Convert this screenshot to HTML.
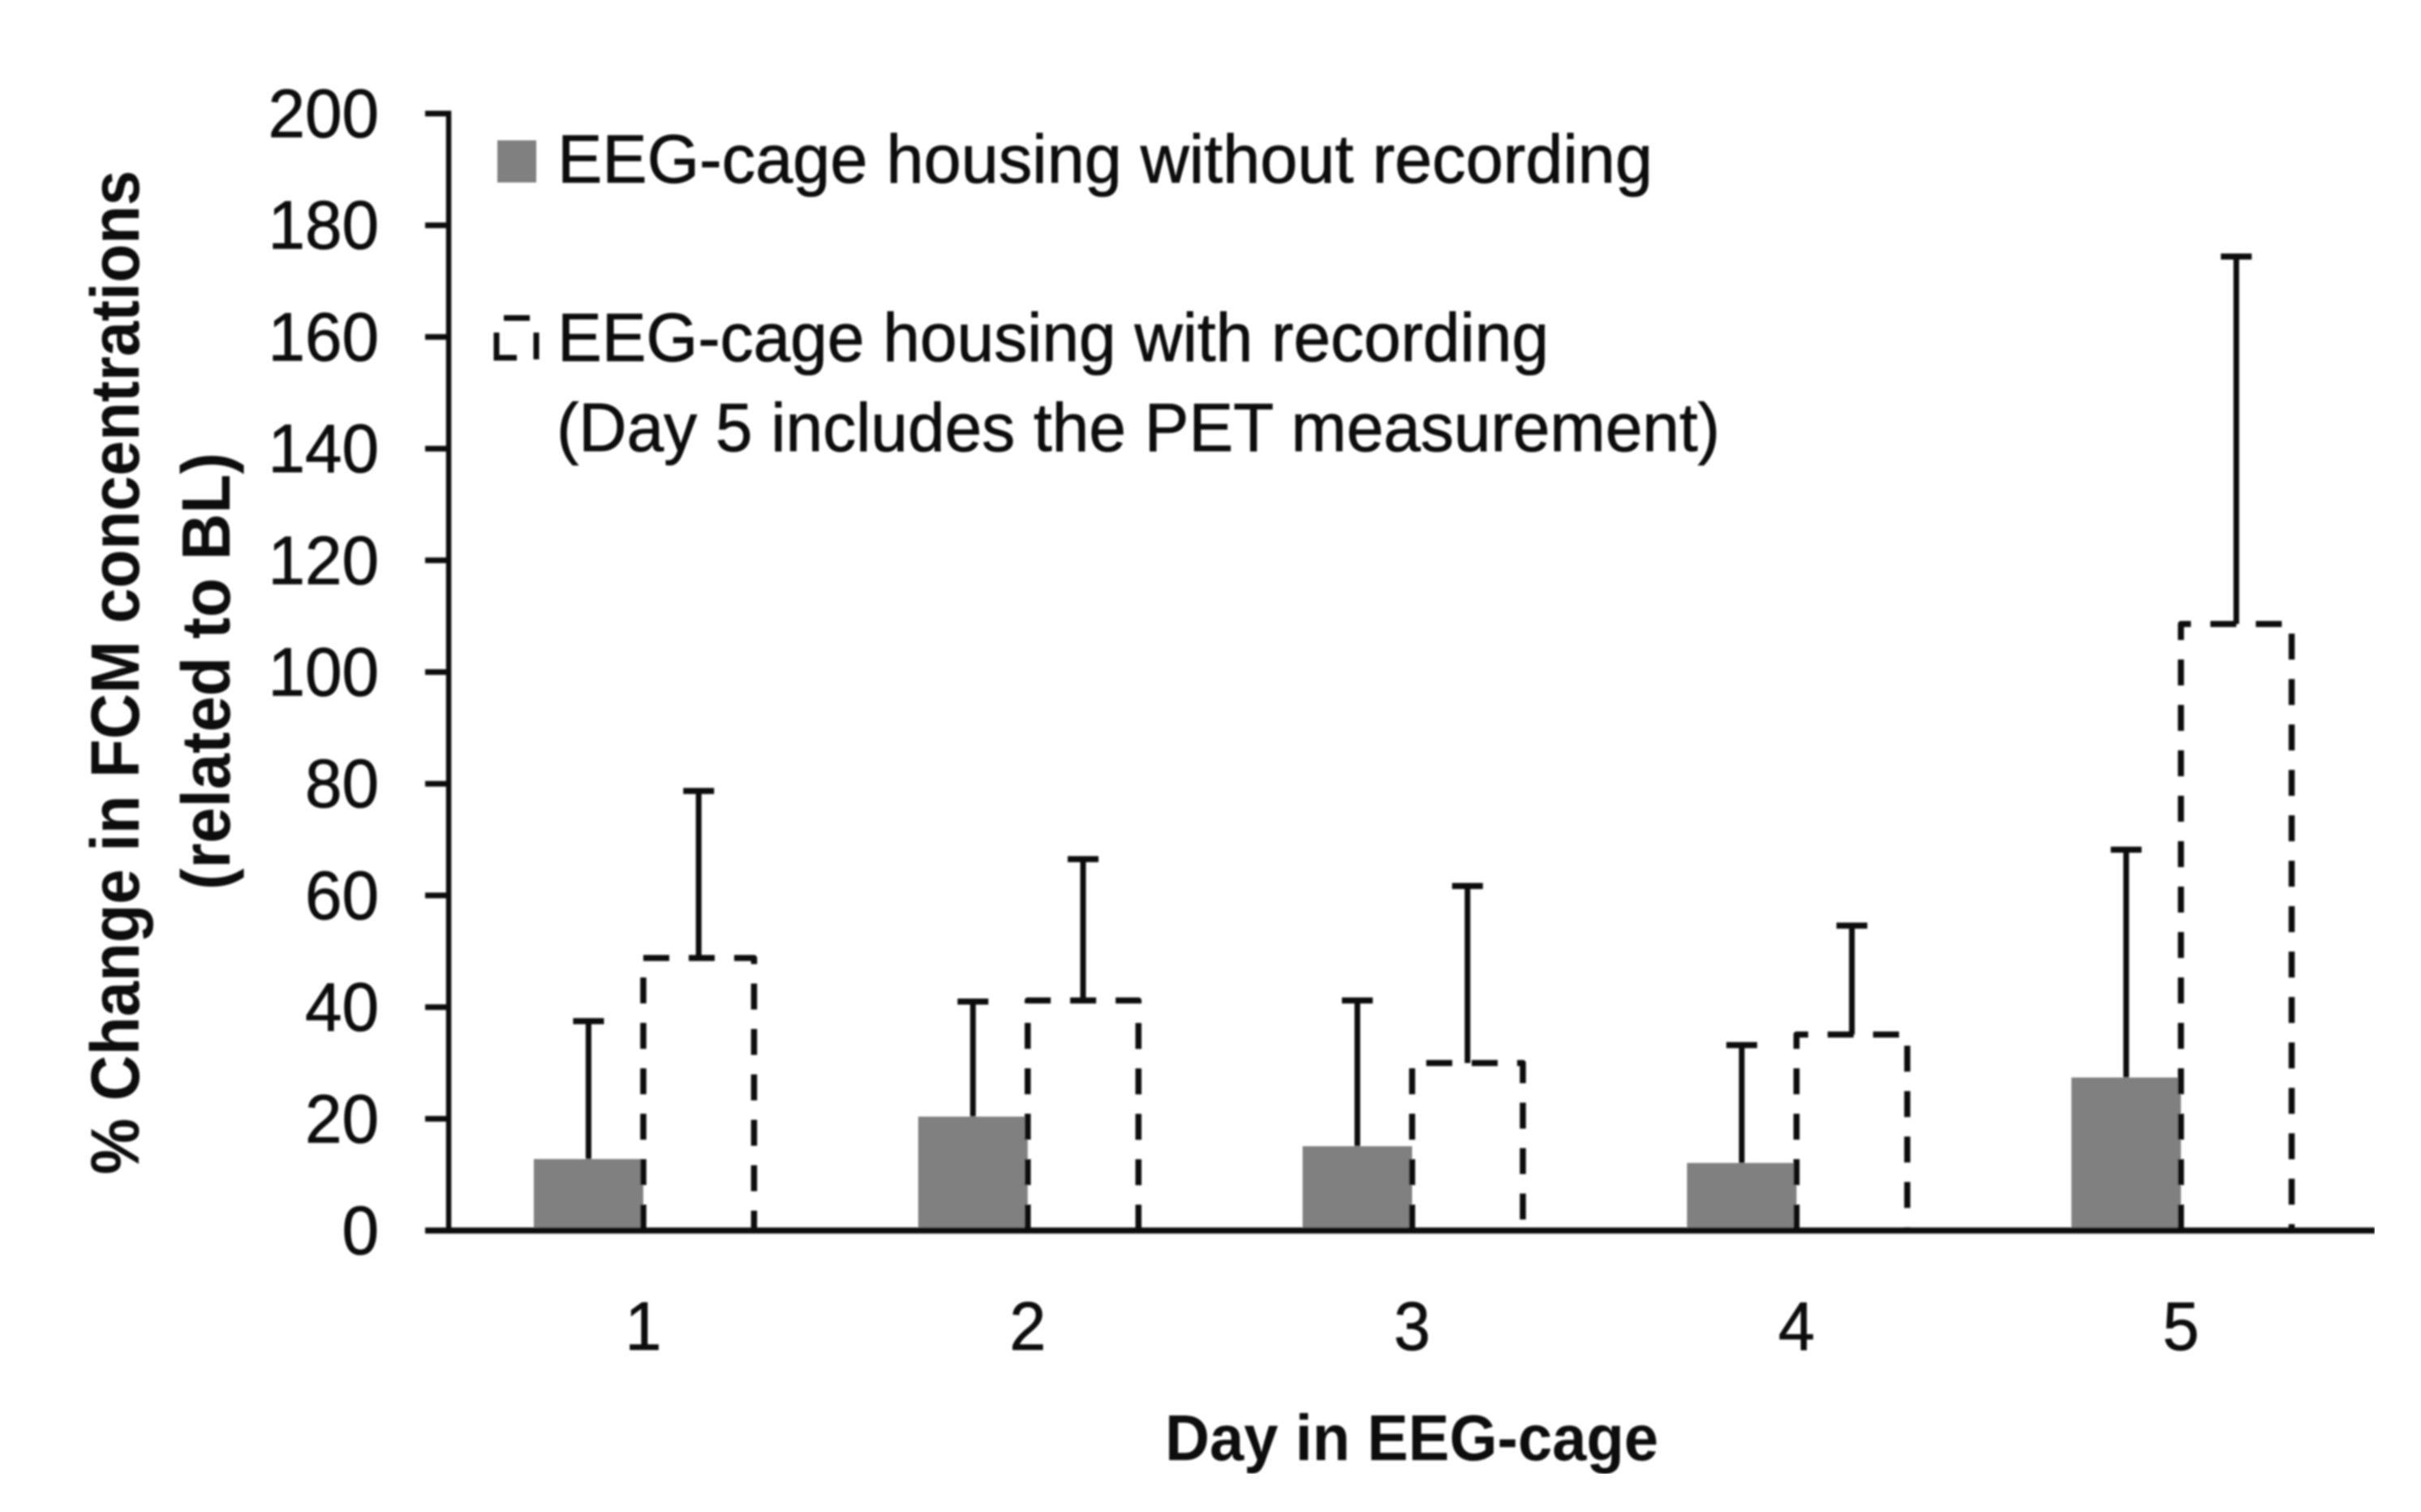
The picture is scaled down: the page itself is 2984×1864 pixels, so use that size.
<!DOCTYPE html>
<html lang="en">
<head>
<meta charset="utf-8">
<title>Change in FCM concentrations by day in EEG-cage</title>
<style>
html,body{margin:0;padding:0;background:#fff;}
svg{display:block;}
text{font-family:"Liberation Sans",sans-serif;fill:#111;}
</style>
</head>
<body>
<svg id="chart" width="2984" height="1864" viewBox="0 0 2984 1864" xmlns="http://www.w3.org/2000/svg">
<defs><filter id="soft" x="0" y="0" width="100%" height="100%"><feGaussianBlur stdDeviation="1"/></filter></defs>
<rect x="0" y="0" width="2984" height="1864" fill="#fff"/>
<g id="root" filter="url(#soft)">
<g id="marks"></g>
<g id="axes"></g>
<g>
<rect x="613" y="173" width="48" height="52" fill="#808080"/>
<text x="687" y="225" font-size="84" stroke="#111" stroke-width="0.8" textLength="1350" lengthAdjust="spacingAndGlyphs">EEG-cage housing without recording</text>
<path d="M621 392H653M612 410V441H637M661 410V443" fill="none" stroke="#111" stroke-width="7"/>
<text x="687" y="445" font-size="84" stroke="#111" stroke-width="0.8" textLength="1222" lengthAdjust="spacingAndGlyphs">EEG-cage housing with recording</text>
<text x="686" y="556" font-size="84" stroke="#111" stroke-width="0.8" textLength="1434" lengthAdjust="spacingAndGlyphs">(Day 5 includes the PET measurement)</text>
</g>
<text transform="translate(171,1448) rotate(-90)" font-size="84" font-weight="bold" textLength="1238" lengthAdjust="spacingAndGlyphs">% Change in FCM concentrations</text>
<text transform="translate(283,1097) rotate(-90)" font-size="84" font-weight="bold" textLength="539" lengthAdjust="spacingAndGlyphs">(related to BL)</text>
<text x="1436" y="1800" font-size="80" font-weight="bold" textLength="608" lengthAdjust="spacingAndGlyphs">Day in EEG-cage</text>
</g>
</svg>
<script>
const days = ['1', '2', '3', '4', '5'];
const withoutRecording = [12.8, 20.4, 15.1, 12.1, 27.4];
const withoutRecordingError = [37.5, 41, 41.2, 33.2, 68.2];
const withRecording = [48.8, 41.2, 30, 35.1, 108.6];
const withRecordingError = [78.7, 66.5, 61.7, 54.6, 174.4];
const yTicks = [0, 20, 40, 60, 80, 100, 120, 140, 160, 180, 200];

const axisLeft = 553, axisRight = 2927, plotTop = 140, plotBottom = 1517;
const bandLeft = 556, bandRight = 2925;
const yMax = 200;
const barWidth = 135;
const dashedWidth = 136.5;

function yScale(v) { return plotBottom - (v / yMax) * (plotBottom - plotTop); }
function xCenter(i) { return bandLeft + (bandRight - bandLeft) * (i + 0.5) / days.length; }

const NS = 'http://www.w3.org/2000/svg';
function make(tag, attrs, parent) {
  const el = document.createElementNS(NS, tag);
  for (const k in attrs) el.setAttribute(k, attrs[k]);
  parent.appendChild(el);
  return el;
}
const marks = document.getElementById('marks');
const axes = document.getElementById('axes');

function drawError(x, from, to, name) {
  const g = make('g', {}, marks);
  
  
  make('line', {x1: x, x2: x, y1: yScale(from), y2: yScale(to), stroke: '#111', 'stroke-width': 7}, g);
  make('line', {x1: x - 19, x2: x + 19, y1: yScale(to), y2: yScale(to), stroke: '#111', 'stroke-width': 7.5}, g);
}

days.forEach(function (day, i) {
  const c = xCenter(i);
  const bar = make('rect', {x: c - barWidth, y: yScale(withoutRecording[i]), width: barWidth, height: plotBottom - yScale(withoutRecording[i]), fill: '#808080'}, marks);
  
  

  const top = yScale(withRecording[i]);
  const dashed = make('path', {d: 'M' + c + ' ' + plotBottom + 'V' + top + 'H' + (c + dashedWidth) + 'V' + plotBottom, fill: 'none', stroke: '#111', 'stroke-width': 7.5, 'stroke-linejoin': 'round', 'stroke-dasharray': '32 24'}, marks);
  
  

  drawError(c - barWidth / 2, withoutRecording[i], withoutRecordingError[i], 'error-bar-without-recording-day-' + day);
  drawError(c + dashedWidth / 2, withRecording[i], withRecordingError[i], 'error-bar-with-recording-day-' + day);

  const label = make('text', {x: c, y: 1664, 'font-size': 84, 'text-anchor': 'middle', stroke: '#111', 'stroke-width': 0.8, textLength: 45, lengthAdjust: 'spacingAndGlyphs'}, axes);
  label.textContent = day;
  
  
});

yTicks.forEach(function (t) {
  const y = yScale(t);
  const tick = make('line', {x1: 524, x2: axisLeft, y1: y, y2: y, stroke: '#111', 'stroke-width': 7}, axes);
  
  
  const s = String(t);
  const label = make('text', {x: 467, y: y + 29, 'font-size': 84, 'text-anchor': 'end', stroke: '#111', 'stroke-width': 0.8, textLength: s.length * 45.5, lengthAdjust: 'spacingAndGlyphs'}, axes);
  label.textContent = s;
  
  
});

const yAxis = make('line', {x1: axisLeft, x2: axisLeft, y1: plotTop - 3.5, y2: plotBottom + 3.5, stroke: '#111', 'stroke-width': 6.5}, axes);



const xAxis = make('line', {x1: 524, x2: axisRight, y1: plotBottom, y2: plotBottom, stroke: '#111', 'stroke-width': 7.5}, axes);


</script>
</body>
</html>
